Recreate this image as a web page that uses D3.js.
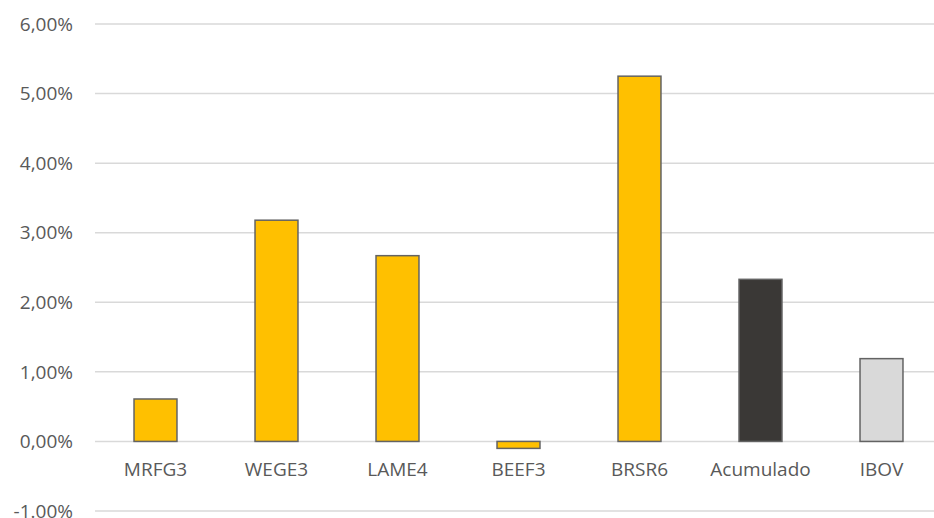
<!DOCTYPE html>
<html>
<head>
<meta charset="utf-8">
<script src="https://cdn.jsdelivr.net/npm/d3@7"></script>
<style>
  body { margin: 0; background: #fff; }
  svg text { font-family: "Open Sans", Lato, sans-serif; fill: #595959; }
</style>
</head>
<body>
<div id="plot"></div>
<script>
const categories = ['MRFG3', 'WEGE3', 'LAME4', 'BEEF3', 'BRSR6', 'Acumulado', 'IBOV']
const values = [0.61, 3.18, 2.67, -0.10, 5.25, 2.33, 1.19]
const barColors = ['#FFC000', '#FFC000', '#FFC000', '#FFC000', '#FFC000', '#3A3836', '#D9D9D9']
const tickValues = [-1, 0, 1, 2, 3, 4, 5, 6]
const tickLabels = ['-1.00%', '0,00%', '1,00%', '2,00%', '3,00%', '4,00%', '5,00%', '6,00%']

const width = 934, height = 518
const margin = ({top: 24, right: -8, bottom: 7, left: 95})

const svg = d3.select('#plot').append('svg')
  .attr('width', width)
  .attr('height', height)

const xScale = d3.scaleBand()
  .domain(categories)
  .range([margin.left, width - margin.right])
  .paddingInner(0.645)
  .paddingOuter(0.3225)

const yScale = d3.scaleLinear()
  .domain([-1, 6])
  .range([height - margin.bottom, margin.top])

//gridlines
svg.append('g')
  .selectAll('line')
  .data(tickValues)
  .enter()
  .append('line')
  .attr('x1', margin.left)
  .attr('x2', width)
  .attr('y1', d => yScale(d))
  .attr('y2', d => yScale(d))
  .attr('stroke', '#D9D9D9')
  .attr('stroke-width', 1.5)

//yaxis labels
svg.append('g')
  .selectAll('text')
  .data(tickValues)
  .enter()
  .append('text')
  .attr('x', 73)
  .attr('y', d => yScale(d))
  .attr('dy', '0.35em')
  .attr('text-anchor', 'end')
  .attr('font-size', 19)
  .text((d, i) => tickLabels[i])

//bars
svg.append('g')
  .selectAll('rect')
  .data(values)
  .enter()
  .append('rect')
  .attr('x', (d, i) => xScale(categories[i]))
  .attr('width', xScale.bandwidth())
  .attr('y', d => yScale(Math.max(0, d)))
  .attr('height', d => Math.abs(yScale(d) - yScale(0)))
  .attr('fill', (d, i) => barColors[i])
  .attr('stroke', '#636363')
  .attr('stroke-width', 1.5)

//xaxis labels
svg.append('g')
  .selectAll('text')
  .data(categories)
  .enter()
  .append('text')
  .attr('x', d => xScale(d) + xScale.bandwidth() / 2)
  .attr('y', yScale(0) + 28)
  .attr('dy', '0.35em')
  .attr('text-anchor', 'middle')
  .attr('font-size', 19)
  .text(d => d)
</script>
</body>
</html>
